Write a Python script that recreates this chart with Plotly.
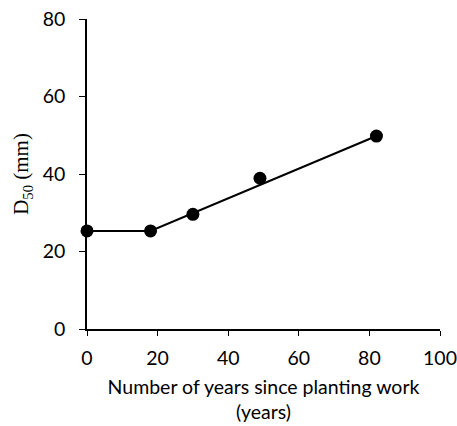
import plotly.graph_objects as go

# Observed median grain size against stand age
years = [0, 18, 30, 49, 82]
d50 = [25.3, 25.3, 29.6, 38.9, 49.8]

# Piecewise trend: flat, then rising linearly
trend_years = [0, 18, 82]
trend_d50 = [25.3, 25.3, 49.8]

x_ticks = [0, 20, 40, 60, 80, 100]
y_ticks = [0, 20, 40, 60, 80]

sans = "Lato, Carlito, Calibri, sans-serif"
serif = "Liberation Serif, Times New Roman, serif"

fig = go.Figure()
fig.add_trace(go.Scatter(
    x=trend_years, y=trend_d50, mode="lines",
    line=dict(color="black", width=2), hoverinfo="skip", showlegend=False,
))
fig.add_trace(go.Scatter(
    x=years, y=d50, mode="markers",
    marker=dict(color="black", size=13), showlegend=False, cliponaxis=False,
))

fig.update_layout(
    width=457, height=426,
    margin=dict(l=87, r=17, t=19, b=97, autoexpand=False),
    paper_bgcolor="white", plot_bgcolor="white",
    font=dict(family=sans, size=19.5, color="black"),
)
fig.update_xaxes(
    range=[0, 100], tickvals=x_ticks, ticks="outside", ticklen=5,
    tickwidth=1, tickcolor="black", showline=True, linecolor="black",
    linewidth=1.5, showgrid=False, zeroline=False, automargin=False,
    tickfont=dict(family=sans, size=19.5), ticklabelstandoff=6,
    title=dict(text="Number of years since planting work<br>(years)",
               font=dict(family=sans, size=19.5), standoff=12),
)
fig.update_yaxes(
    range=[0, 80], tickvals=y_ticks, ticks="outside", ticklen=6,
    tickwidth=1, tickcolor="black", showline=True, linecolor="black",
    linewidth=1.5, showgrid=False, zeroline=False, automargin=False,
    tickfont=dict(family=sans, size=19.5), ticklabelstandoff=10,
    title=dict(text="D<sub>50</sub> (mm)",
               font=dict(family=serif, size=21), standoff=8),
)

fig.write_html("out.html")
